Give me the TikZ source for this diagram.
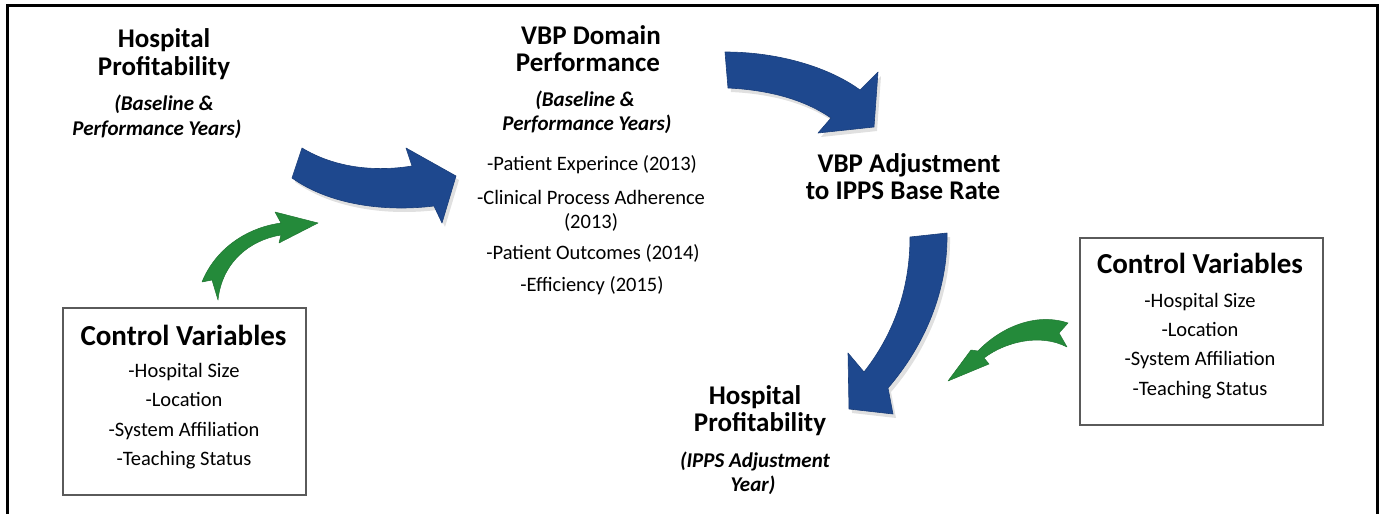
\documentclass[tikz,border=0pt]{standalone}
\usepackage{fontspec}
\setmainfont{Carlito}
\definecolor{flowblue}{RGB}{30,72,142}
\definecolor{ctrlgreen}{RGB}{36,138,58}
\definecolor{boxgray}{RGB}{90,90,90}
\begin{document}
\begin{tikzpicture}[x=1pt,y=-1pt,
  title/.style={font=\bfseries\fontsize{27}{28}\selectfont, anchor=base, inner sep=0pt},
  boxtitle/.style={font=\bfseries\fontsize{29}{30}\selectfont, anchor=base, inner sep=0pt},
  subtitle/.style={font=\bfseries\itshape\fontsize{21}{24}\selectfont, anchor=base, inner sep=0pt},
  item/.style={font=\fontsize{20.5}{24}\selectfont, anchor=base, inner sep=0pt},
  ctrlbox/.style={draw=boxgray, line width=2pt, fill=white, minimum width=243pt, minimum height=187pt, inner sep=0pt},
  bluearrow/.style={fill=flowblue, draw=flowblue!85!black, line width=0.6pt, line join=round},
  greenarrow/.style={fill=ctrlgreen, draw=ctrlgreen!85!black, line width=0.5pt, line join=round},
  shade/.style={fill=black, opacity=0.12, shift={(3pt,-4pt)}},
  frame/.style={draw=black, line width=3pt}]
\useasboundingbox (0,0) rectangle (1379,514);

% outer frame, open at the bottom
\draw[frame] (7,514) -- (7,5) -- (1377,5) -- (1377,514);

% control variable boxes
\node[ctrlbox] (lbox) at (184.5,401.5) {};
\node[ctrlbox] (rbox) at (1201.5,331.5) {};

% block arrows of the main chain (shadow first, then the arrow)
\foreach \st in {shade,bluearrow}{
  \path[\st] (302,148) .. controls (335,168) and (375,172) .. (412,166)
    -- (406,148) -- (456,176) -- (442,223) -- (434,206)
    .. controls (385,212) and (330,205) .. (292,178) -- cycle;
  \path[\st] (725,52) .. controls (780,52) and (830,68) .. (860,90)
    -- (878,72) -- (874,127) -- (818,133) -- (831,118)
    .. controls (805,100) and (770,90) .. (728,88) -- cycle;
  \path[\st] (947,233) .. controls (948,290) and (925,345) .. (888,388)
    -- (893,414) -- (849,409) -- (848,353) -- (864,372)
    .. controls (893,335) and (910,290) .. (910,237) -- cycle;
}

% arrows from the control variables
\path[greenarrow] (202,282) .. controls (215,250) and (245,228) .. (281,223)
  -- (275,212) -- (318,223) -- (279,243) -- (281,235)
  .. controls (250,240) and (222,262) .. (218,300) -- (212,280) -- cycle;
\path[greenarrow] (1068,323) .. controls (1035,312) and (1000,328) .. (978,351)
  -- (971,350) -- (948,381) -- (989,364) -- (984,358)
  .. controls (1005,342) and (1040,333) .. (1067,347) -- (1059,333) -- cycle;

% hospital profitability, baseline and performance years
\node[title] (hp1) at (164,47) {Hospital};
\node[title] (hp2) at (164,75) {Profitability};
\node[subtitle] (hps1) at (164,110) {(Baseline \&};
\node[subtitle] (hps2) at (157,135) {Performance Years)};

% VBP domain performance
\node[title] (vbp1) at (591,44) {VBP Domain};
\node[title] (vbp2) at (588,71) {Performance};
\node[subtitle] (vbps1) at (585,106) {(Baseline \&};
\node[subtitle] (vbps2) at (587,130) {Performance Years)};
\node[item] (d1) at (592,170) {-Patient Experince (2013)};
\node[item] (d2) at (591,204) {-Clinical Process Adherence};
\node[item] (d3) at (591,228) {(2013)};
\node[item] (d4) at (593,259) {-Patient Outcomes (2014)};
\node[item] (d5) at (592,291) {-Efficiency (2015)};

% VBP adjustment
\node[title] (adj1) at (909,172) {VBP Adjustment};
\node[title] (adj2) at (903,199) {to IPPS Base Rate};

% hospital profitability, adjustment year
\node[title] (hq1) at (755,404) {Hospital};
\node[title] (hq2) at (760,431) {Profitability};
\node[subtitle] (hqs1) at (755,467) {(IPPS Adjustment};
\node[subtitle] (hqs2) at (753,491) {Year)};

% left control variables
\node[boxtitle] (lc0) at (183.5,345) {Control Variables};
\node[item] (lc1) at (184,377) {-Hospital Size};
\node[item] (lc2) at (184,406) {-Location};
\node[item] (lc3) at (184,436) {-System Affiliation};
\node[item] (lc4) at (184,465) {-Teaching Status};

% right control variables
\node[boxtitle] (rc0) at (1200,273) {Control Variables};
\node[item] (rc1) at (1200,307) {-Hospital Size};
\node[item] (rc2) at (1200,336) {-Location};
\node[item] (rc3) at (1200,365) {-System Affiliation};
\node[item] (rc4) at (1200,395) {-Teaching Status};
\end{tikzpicture}
\end{document}
